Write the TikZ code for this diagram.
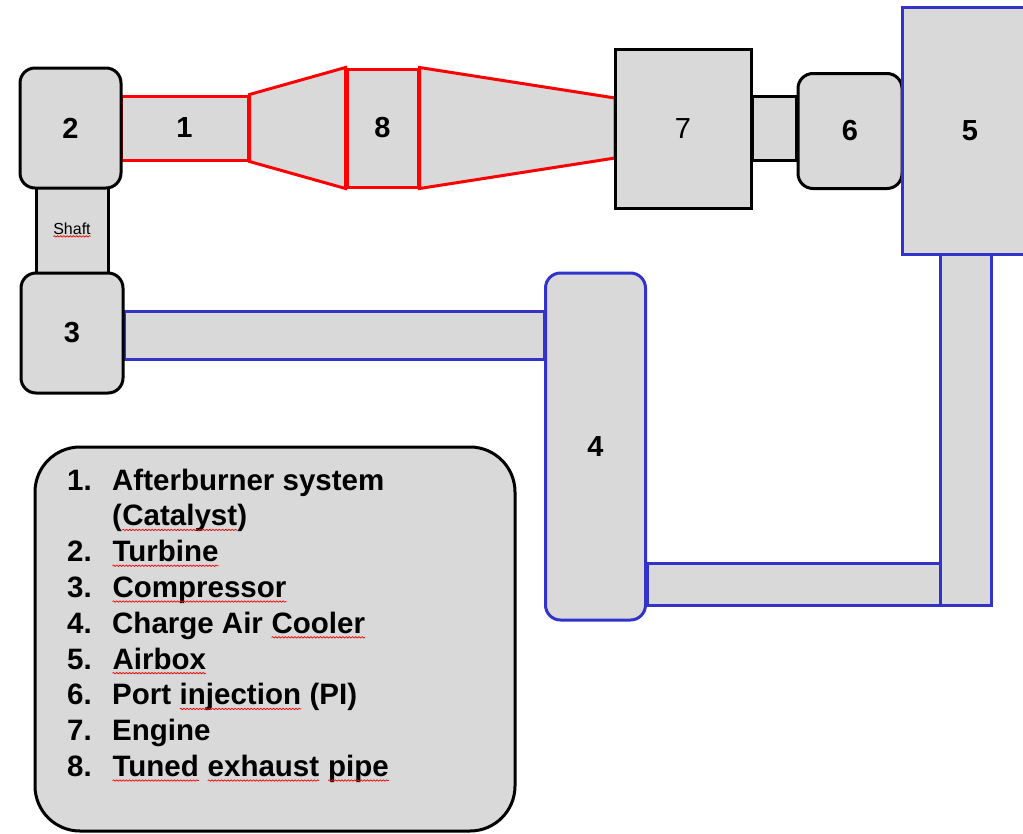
\documentclass[tikz,border=0pt]{standalone}
\usepackage{fontspec}
\setmainfont{Liberation Sans}
\usetikzlibrary{backgrounds,decorations.pathmorphing}
\definecolor{partgray}{HTML}{D9D9D9}
\definecolor{pipered}{HTML}{FF0000}
\definecolor{pipeblue}{HTML}{3333CC}
\newcommand{\spellmark}[1]{\tikz[baseline=(w.base)]{\node[inner sep=0pt,outer sep=0pt,anchor=base,draw=none,fill=none,minimum size=0pt,rectangle] (w) {#1};
  \draw[pipered,line width=0.7pt,sharp corners,decorate,decoration={snake,amplitude=0.7pt,segment length=3.2pt}] ([yshift=-0.14em]w.base west) -- ([yshift=-0.14em]w.base east);}}

\begin{document}
\begin{tikzpicture}[x=1pt,y=-1pt,
  part/.style={draw=black,fill=partgray,line width=3pt,inner sep=0pt,font=\fontsize{29}{35}\selectfont\bfseries},
  rpart/.style={part,rounded corners=15pt},
  redpart/.style={part,draw=pipered},
  bluepart/.style={part,draw=pipeblue},
  legend/.style={anchor=base west,inner sep=0pt,font=\fontsize{29.5}{36}\selectfont\bfseries}]
  \useasboundingbox (0,0) rectangle (1023,833);
  \clip (0,0) rectangle (1023,833);

  \node[part,minimum width=72pt,minimum height=96pt] (shaft) at (72,230) {};
  \node[font=\fontsize{16}{18}\selectfont] (shafttext) at (shaft) {\spellmark{Shaft}};
  \node[redpart,minimum width=127pt,minimum height=64pt] (pipe1) at (184.5,128) {1};
  \node[redpart,minimum width=71pt,minimum height=118pt] (pipe8) at (382.5,128) {8};
  \draw[redpart] (pipe1.north east) -- (pipe8.north west) -- (pipe8.south west) -- (pipe1.south east) -- cycle;
  \draw[redpart] (pipe8.north east) -- (615,98) -- (615,158) -- (pipe8.south east) -- cycle;

  \node[part,minimum width=136pt,minimum height=159pt,font=\fontsize{29}{35}\selectfont] (engine) at (683,128.5) {7};
  \node[rpart,minimum width=104pt,minimum height=115pt] (injection) at (850,131) {6};
  \node[bluepart,minimum width=136pt,minimum height=247pt] (airbox) at (970,130.5) {5};
  \node[rpart,minimum width=101pt,minimum height=120pt] (turbine) at (70.5,128) {2};
  \node[rpart,minimum width=102pt,minimum height=120pt] (compressor) at (72,333) {3};
  \node[rpart,draw=pipeblue,minimum width=100pt,minimum height=347pt] (cooler) at (595.5,446.5) {4};

  \begin{pgfonlayer}{background}
    \draw[bluepart] (compressor.east |- 0,311) rectangle (cooler.west |- 0,359);
    \draw[part] (engine.east |- 0,96) rectangle (injection.west |- 0,160);
    \draw[bluepart] (cooler.east |- 0,563) rectangle (940,605);
    \draw[bluepart] (940,254) rectangle (991,605);
  \end{pgfonlayer}

  \node[part,rounded corners=45pt,minimum width=480pt,minimum height=384pt] (legendbox) at (275,639) {};
  \foreach \num/\txt [count=\k from 0] in {1./Afterburner system, /(\spellmark{Catalyst}), 2./\spellmark{Turbine},
      3./\spellmark{Compressor}, 4./Charge Air \spellmark{Cooler}, 5./\spellmark{Airbox},
      6./Port \spellmark{injection} (PI), 7./Engine, 8./\spellmark{Tuned} \spellmark{exhaust} \spellmark{pipe}}{
    \node[legend] (num\k) at (67,490+35.8*\k) {\num};
    \node[legend] (item\k) at (112,490+35.8*\k) {\txt};
  }
\end{tikzpicture}
\end{document}
